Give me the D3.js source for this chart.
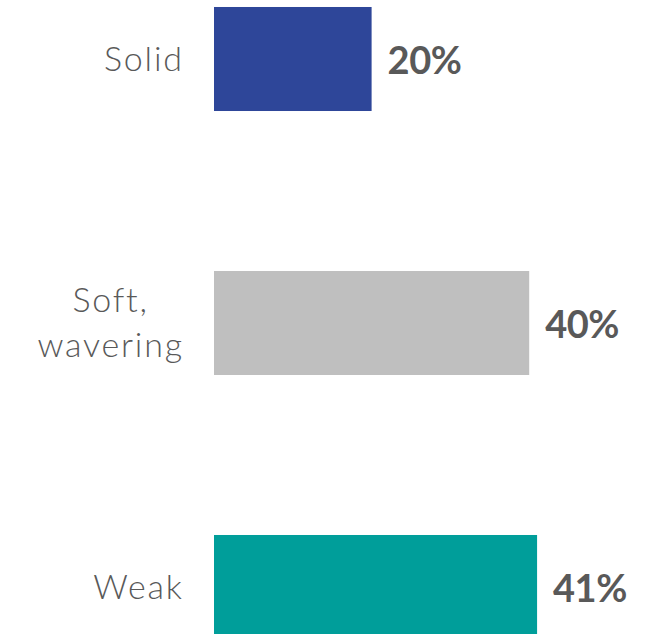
<!DOCTYPE html>
<html>
<head>
<meta charset="utf-8">
<script src="https://cdn.jsdelivr.net/npm/d3@7"></script>
<style>
  html, body { margin: 0; padding: 0; background: #fff; }
  svg { display: block; }
</style>
</head>
<body>
<svg id="chart" width="654" height="634"></svg>
<script>
const categories = ["Solid", "Soft, wavering", "Weak"];
const labelLines = [["Solid"], ["Soft,", "wavering"], ["Weak"]];
const values = [20, 40, 41];
const valueLabels = ["20%", "40%", "41%"];
const colors = ["#2E4699", "#BFBFBF", "#009E9A"];

const svg = d3.select("#chart");
const x = d3.scaleLinear().domain([0, 100]).range([214, 1002]);
const y = d3.scaleBand().domain(categories).range([-73, 719])
  .paddingInner(0.606).paddingOuter(0.303);

const fontFam = "Lato, 'Open Sans', sans-serif";

svg.selectAll("rect.bar").data(categories).join("rect")
  .attr("class", "bar")
  .attr("x", x(0))
  .attr("y", d => y(d))
  .attr("width", (d, i) => x(values[i]) - x(0))
  .attr("height", y.bandwidth())
  .attr("fill", (d, i) => colors[i]);

// value labels
svg.selectAll("text.val").data(categories).join("text")
  .attr("class", "val")
  .attr("x", (d, i) => x(values[i]) + 16)
  .attr("y", d => y(d) + y.bandwidth() / 2 + 2)
  .attr("dy", "0.35em")
  .attr("font-family", fontFam)
  .attr("font-weight", "bold")
  .attr("font-size", 38)
  .attr("letter-spacing", -0.5)
  .attr("fill", "#595959")
  .text((d, i) => valueLabels[i]);

// category labels
const right = 182;
const lineH = 45;
categories.forEach((c, i) => {
  const lines = labelLines[i];
  const g = svg.append("g");
  const cy = y(c) + y.bandwidth() / 2;
  const texts = lines.map((ln, j) => g.append("text")
    .attr("y", cy + (j - (lines.length - 1) / 2) * lineH)
    .attr("dy", "0.35em")
    .attr("font-family", fontFam)
    .attr("font-weight", 300)
    .attr("font-size", 34)
    .attr("letter-spacing", 1.8)
    .attr("fill", "#595959")
    .attr("text-anchor", "start")
    .text(ln));
  const widths = texts.map(t => t.node().getComputedTextLength() - 1.8);
  const maxW = d3.max(widths);
  texts.forEach((t, j) => t.attr("x", right - maxW / 2 - widths[j] / 2));
});
</script>
</body>
</html>
